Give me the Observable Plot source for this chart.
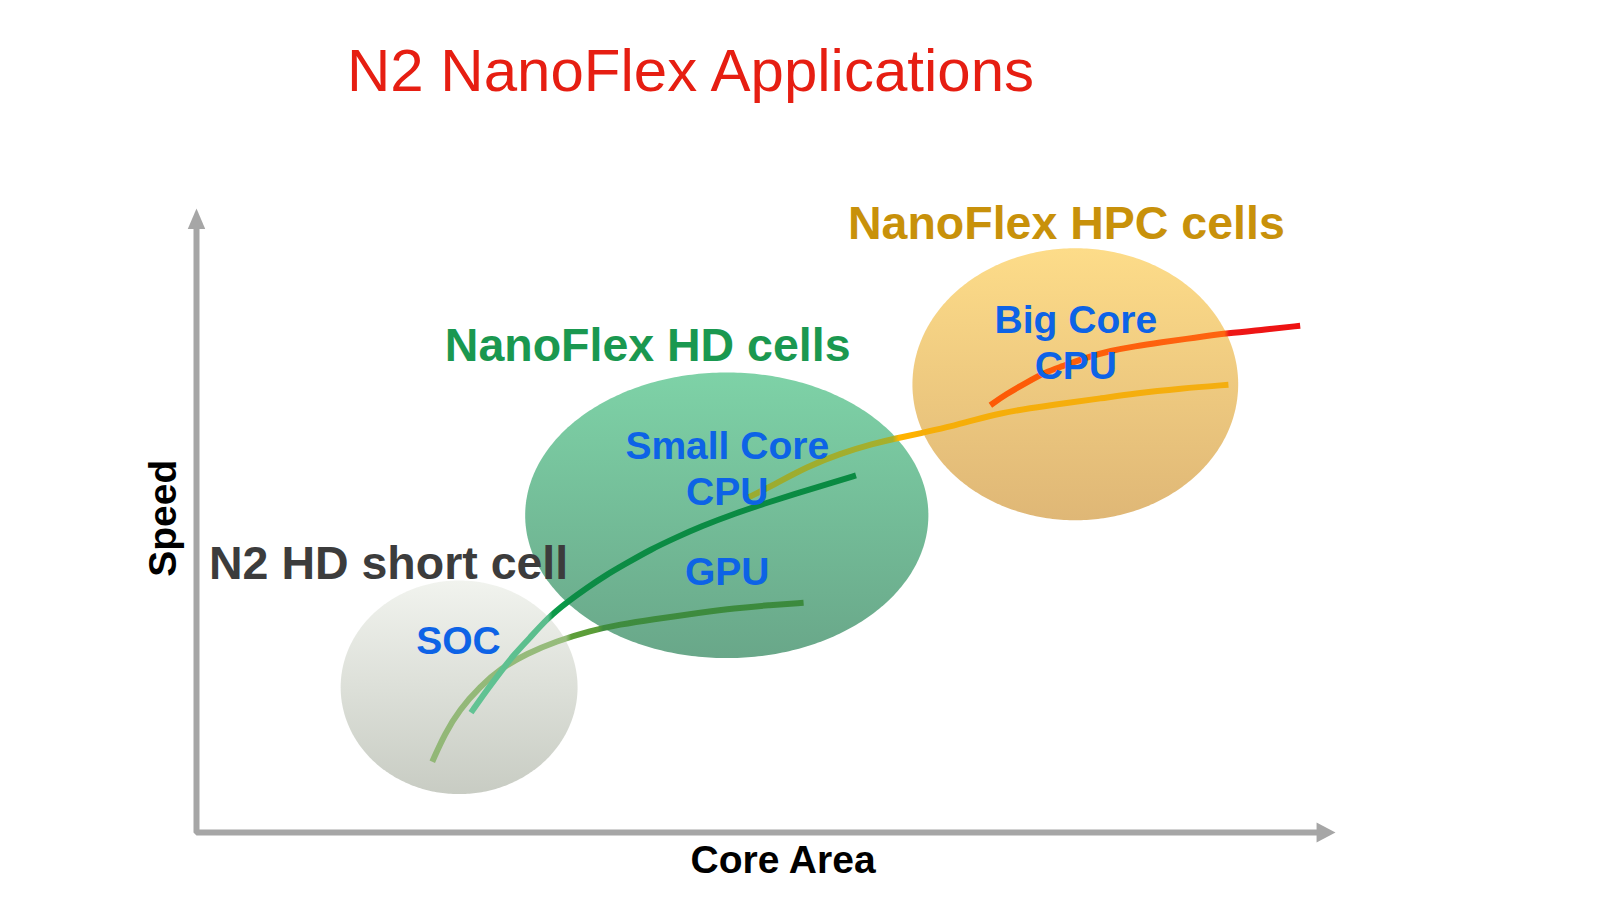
<!DOCTYPE html>
<html><head><meta charset="utf-8">
<script src="https://cdn.jsdelivr.net/npm/d3@7"></script>
<script src="https://cdn.jsdelivr.net/npm/@observablehq/plot@0.6"></script>
<style>
html,body{margin:0;padding:0;background:#fff;}
#page{position:relative;width:1600px;height:900px;overflow:hidden;background:#fff;}
#title{position:relative;height:130px;}
#title span{position:absolute;left:347px;top:41px;font:60px/60px "Liberation Sans",Arial,sans-serif;color:#e61e12;white-space:nowrap;}
</style></head>
<body><div id="page"><div id="title"><span id="t"></span></div><div id="chart"></div></div>
<script>
// ---------- DATA (abstract units: Core Area 0-100, Speed 0-100) ----------
const titleText = "N2 NanoFlex Applications";
const xLabel = "Core Area";
const yLabel = "Speed";

// Cell regions (ellipses)
const regionName = ["N2 HD short cell", "NanoFlex HD cells", "NanoFlex HPC cells"];
const regionCx = [23.1, 46.6, 77.2];
const regionCy = [23.3, 51.0, 72.1];
const regionRx = [10.4, 17.7, 14.3];
const regionRy = [17.2, 23.0, 21.9];
const regionTop = ["#f1f3ee", "#7ed2a7", "#fddc89"];
const regionBottom = ["#c8ccc3", "#69a789", "#dfb776"];

// Curves
const gpuArea  = [20.7, 21.8, 23.1, 24.9, 26.7, 29.0, 31.6, 34.6, 37.2, 39.9, 44.3, 47.2, 50.2, 53.3];
const gpuSpeed = [11.4, 15.9, 19.8, 23.5, 26.4, 28.8, 30.8, 32.5, 33.5, 34.3, 35.4, 36.1, 36.6, 37.0];

const smallArea  = [24.1, 25.4, 26.7, 27.9, 29.2, 30.8, 32.6, 34.2, 35.9, 37.7, 39.9, 42.1, 44.3, 47.3, 50.1, 53.0, 55.9, 57.9];
const smallSpeed = [19.3, 22.7, 25.9, 28.7, 31.2, 34.5, 37.2, 39.3, 41.4, 43.3, 45.6, 47.5, 49.3, 51.4, 53.1, 54.8, 56.4, 57.5];

const hpcArea  = [48.5, 50.7, 53.6, 56.5, 59.4, 61.5, 63.6, 65.8, 68.4, 70.6, 73.0, 76.5, 79.4, 82.3, 86.4, 90.6];
const hpcSpeed = [54.0, 56.0, 58.9, 61.0, 62.6, 63.5, 64.3, 65.2, 66.5, 67.5, 68.3, 69.2, 69.9, 70.7, 71.5, 72.1];

const bigArea  = [69.7, 71.0, 73.0, 74.5, 75.9, 78.1, 80.3, 82.4, 84.6, 87.7, 90.5, 93.9, 96.9];
const bigSpeed = [68.8, 70.5, 72.6, 74.1, 75.0, 76.5, 77.6, 78.3, 78.9, 79.7, 80.4, 81.0, 81.6];

// Colour stops along each curve (offset, colour)
const gpuStops   = [[0, "#92b777"], [0.36, "#97bc7c"], [0.374, "#5e9f3a"], [0.445, "#5a9c38"], [0.46, "#3f8c3f"], [1, "#3b8a3d"]];
const smallStops = [[0, "#62c394"], [0.2, "#5abd8c"], [0.212, "#0d9a4a"], [0.245, "#0a9848"], [0.26, "#0c8c45"], [1, "#0a8a42"]];
const hpcStops   = [[0, "#9aab30"], [0.3, "#a6b02c"], [0.312, "#ffb400"], [0.345, "#ffb200"], [0.36, "#f6ae08"], [1, "#f4ae10"]];
const bigStops   = [[0, "#fd5a06"], [0.755, "#fe6410"], [0.77, "#ee1818"], [1, "#ee1111"]];

// Region titles
const labelText  = ["NanoFlex HPC cells", "NanoFlex HD cells", "N2 HD short cell"];
const labelX     = [57.2, 21.8, 1.1];
const labelY     = [95.5, 75.9, 40.9];
const labelColor = ["#c8910a", "#1a9850", "#3c3c3c"];

// Application labels
const appText = ["Big Core", "CPU", "Small Core", "CPU", "GPU", "SOC"];
const appX    = [77.2, 77.2, 46.6, 46.6, 46.6, 23.0];
const appY    = [80.5, 73.1, 60.2, 52.8, 39.9, 28.8];

// Axes
const axisX = [0, 0, 98.6];
const axisY = [97.8, 0, 0];
const tipUp = {x: 0, y: 100.5};
const tipRight = {x: 100, y: 0};

// ---------- BUILD ----------
document.getElementById("t").textContent = titleText;
const FONT = "Liberation Sans, Arial, sans-serif";

const regions = regionName.map((name, i) => d3.range(0, 181, 1).map(a => {
  const t = a * Math.PI / 180;
  return {x: regionCx[i] + regionRx[i] * Math.cos(t),
          y1: regionCy[i] - regionRy[i] * Math.sin(t),
          y2: regionCy[i] + regionRy[i] * Math.sin(t)};
}));
const rows = (xs, ys) => xs.map((x, i) => ({x, y: ys[i]}));

const upArrow = {draw(ctx, size) { const s = Math.sqrt(size);
  ctx.moveTo(0, 0); ctx.lineTo(-s * 0.46, s * 1.08); ctx.lineTo(s * 0.46, s * 1.08); ctx.closePath(); }};
const rightArrow = {draw(ctx, size) { const s = Math.sqrt(size);
  ctx.moveTo(0, 0); ctx.lineTo(-s * 1.0, -s * 0.53); ctx.lineTo(-s * 1.0, s * 0.53); ctx.closePath(); }};

const lineOpts = (id) => ({x: "x", y: "y", stroke: `url(#${id})`, strokeWidth: 6, curve: "basis", strokeLinecap: "butt"});

const plot = Plot.plot({
  width: 1600, height: 770,
  marginLeft: 196, marginRight: 265, marginTop: 81, marginBottom: 68,
  x: {domain: [0, 100], axis: null},
  y: {domain: [0, 100], axis: null},
  style: {background: "transparent", overflow: "visible"},
  marks: [
    ...regions.map((pts, i) => Plot.areaY(pts, {x: "x", y1: "y1", y2: "y2", fill: `url(#reg${i})`, curve: "linear"})),
    Plot.line(rows(axisX, axisY), {x: "x", y: "y", stroke: "#a6a6a6", strokeWidth: 6, strokeLinejoin: "miter", strokeLinecap: "butt"}),
    Plot.dot([tipUp], {x: "x", y: "y", symbol: upArrow, r: 10.7, fill: "#a6a6a6", stroke: "none"}),
    Plot.dot([tipRight], {x: "x", y: "y", symbol: rightArrow, r: 10.7, fill: "#a6a6a6", stroke: "none"}),
    Plot.line(rows(hpcArea, hpcSpeed), lineOpts("cHPC")),
    Plot.line(rows(bigArea, bigSpeed), lineOpts("cBIG")),
    Plot.line(rows(gpuArea, gpuSpeed), lineOpts("cGPU")),
    Plot.line(rows(smallArea, smallSpeed), lineOpts("cSMALL")),
    Plot.text(labelText.map((t, i) => ({t, x: labelX[i], y: labelY[i], c: labelColor[i]})),
      {x: "x", y: "y", text: "t", fill: d => d.c, textAnchor: "start", lineAnchor: "bottom",
       fontSize: 46.5, fontWeight: "bold", fontFamily: FONT}),
    Plot.text(appText.map((t, i) => ({t, x: appX[i], y: appY[i]})),
      {x: "x", y: "y", text: "t", fill: "#0d63e6", textAnchor: "middle", lineAnchor: "bottom",
       fontSize: 39, fontWeight: "bold", fontFamily: FONT}),
    Plot.text([{t: xLabel, x: 51.5, y: -6.6}], {x: "x", y: "y", text: "t", fill: "#000", textAnchor: "middle", lineAnchor: "bottom",
       fontSize: 39, fontWeight: "bold", fontFamily: FONT}),
    Plot.text([{t: yLabel, x: -1.8, y: 50.6}], {x: "x", y: "y", text: "t", fill: "#000", textAnchor: "middle", lineAnchor: "bottom",
       rotate: -90, fontSize: 39, fontWeight: "bold", fontFamily: FONT})
  ]
});

// gradients
const svg = d3.select(plot);
const defs = svg.insert("defs", ":first-child");
regionName.forEach((n, i) => {
  const g = defs.append("linearGradient").attr("id", `reg${i}`).attr("x1", 0).attr("y1", 0).attr("x2", 0).attr("y2", 1);
  g.append("stop").attr("offset", 0).attr("stop-color", regionTop[i]);
  g.append("stop").attr("offset", 1).attr("stop-color", regionBottom[i]);
});
[["cGPU", gpuStops], ["cSMALL", smallStops], ["cHPC", hpcStops], ["cBIG", bigStops]].forEach(([id, stops]) => {
  const g = defs.append("linearGradient").attr("id", id).attr("x1", 0).attr("y1", 0).attr("x2", 1).attr("y2", 0);
  stops.forEach(([o, c]) => g.append("stop").attr("offset", o).attr("stop-color", c));
});
document.getElementById("chart").appendChild(plot);
</script></body></html>
